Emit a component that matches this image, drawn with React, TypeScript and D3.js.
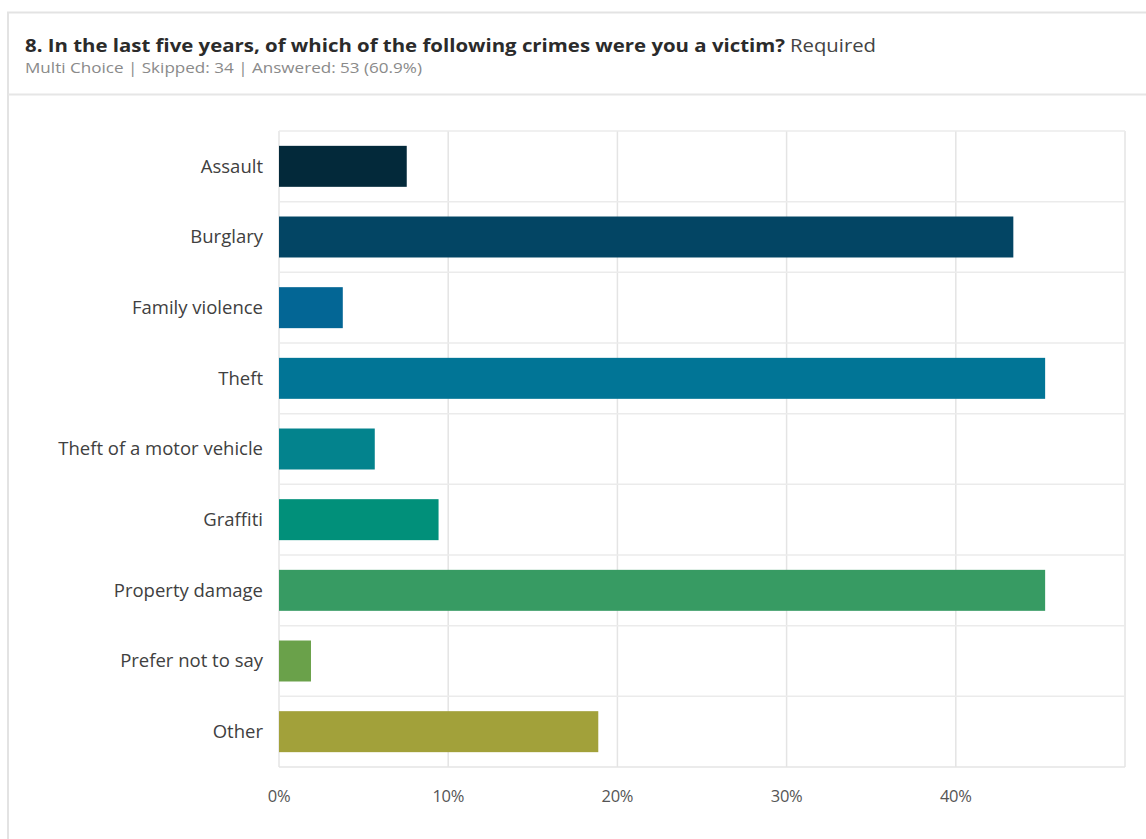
import React from "react";
import * as d3 from "d3";

const categories = [
  "Assault",
  "Burglary",
  "Family violence",
  "Theft",
  "Theft of a motor vehicle",
  "Graffiti",
  "Property damage",
  "Prefer not to say",
  "Other",
];
const percents = [7.55, 43.4, 3.77, 45.28, 5.66, 9.43, 45.28, 1.89, 18.87];
const barColors = [
  "#03293a",
  "#034564",
  "#036695",
  "#017596",
  "#03838d",
  "#01907a",
  "#379b63",
  "#6aa14a",
  "#a2a13a",
];
const tickValues = [0, 10, 20, 30, 40];
const gridValues = [0, 10, 20, 30, 40, 50];
const titleText = "8. In the last five years, of which of the following crimes were you a victim?";
const requiredText = "Required";
const subtitleText = "Multi Choice | Skipped: 34 | Answered: 53 (60.9%)";

const W = 1146;
const H = 839;
const FONT = "'Open Sans', 'Noto Sans', sans-serif";

export default function App() {
  const x = d3.scaleLinear().domain([0, 50]).range([279, 1125]);
  const y = d3.scaleBand<string>().domain(categories).range([131, 767]).padding(0);
  const barFrac = 0.58;
  const step = y.step();
  const bh = step * barFrac;

  return (
    <svg
      width={W}
      height={H}
      style={{ position: "absolute", left: 0, top: 0, background: "#fff" }}
      fontFamily={FONT}
    >
      {/* card */}
      <rect x={8} y={12.5} width={W + 10} height={H + 10} fill="#fff" stroke="#e3e3e3" strokeWidth={2} />
      <line x1={8} x2={W} y1={94.5} y2={94.5} stroke="#e6e6e6" strokeWidth={2} />

      {/* header */}
      <text x={25} y={52} fontSize={18} fill="#2b2b2b" fontWeight={700} textLength={760} lengthAdjust="spacingAndGlyphs">
        {titleText}
      </text>
      <text x={790} y={52} fontSize={18} fill="#444" fontWeight={400} textLength={86} lengthAdjust="spacingAndGlyphs">
        {requiredText}
      </text>
      <text x={25} y={73} fontSize={14.5} fill="#8a8a8a" textLength={397} lengthAdjust="spacingAndGlyphs">
        {subtitleText}
      </text>

      {/* grid */}
      {gridValues.map((v) => (
        <line key={"gv" + v} x1={x(v)} x2={x(v)} y1={131} y2={767} stroke="#e4e4e4" strokeWidth={1.5} />
      ))}
      {categories.map((c) => (
        <line key={"gh" + c} x1={279} x2={1125} y1={y(c)!} y2={y(c)!} stroke="#ebebeb" strokeWidth={1.5} />
      ))}
      <line x1={279} x2={1125} y1={767} y2={767} stroke="#e4e4e4" strokeWidth={1.5} />

      {/* bars */}
      {categories.map((c, i) => (
        <rect
          key={"b" + c}
          x={x(0)}
          y={y(c)! + (step - bh) / 2}
          width={x(percents[i]) - x(0)}
          height={bh}
          fill={barColors[i]}
        />
      ))}

      {/* category labels */}
      {categories.map((c) => (
        <text
          key={"l" + c}
          x={263}
          y={y(c)! + step / 2}
          dy="0.35em"
          textAnchor="end"
          fontSize={18.5}
          fill="#404040"
        >
          {c}
        </text>
      ))}

      {/* x ticks */}
      {tickValues.map((v) => (
        <text
          key={"t" + v}
          x={x(v)}
          y={796}
          dy="0.35em"
          textAnchor="middle"
          fontSize={16.5}
          fill="#555"
          letterSpacing={-0.3}
        >
          {v + "%"}
        </text>
      ))}
    </svg>
  );
}
